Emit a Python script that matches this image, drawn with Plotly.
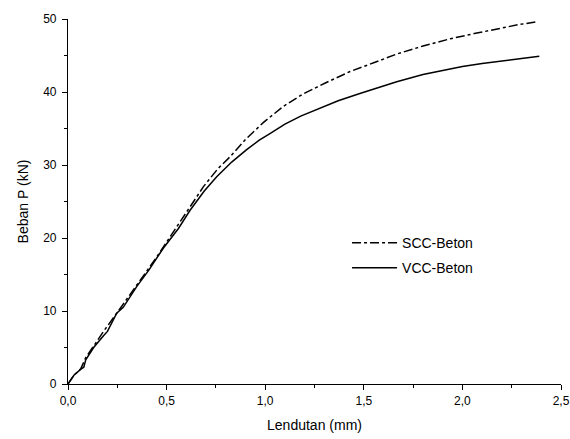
import plotly.graph_objects as go

scc_x = [0, 0.03, 0.065, 0.09, 0.13, 0.18, 0.25, 0.28, 0.35, 0.45, 0.52, 0.585, 0.686, 0.76, 0.821,
         0.90, 0.99, 1.09, 1.19, 1.31, 1.43, 1.55, 1.667, 1.80, 1.94, 2.06, 2.18, 2.28, 2.37]
scc_y = [0, 1.2, 2.1, 3.6, 5.2, 7.2, 9.8, 10.9, 13.6, 17.4, 20.2, 22.9, 27.0, 29.5, 31.1,
         33.5, 35.8, 38.0, 39.7, 41.3, 42.8, 44.0, 45.2, 46.3, 47.3, 48.0, 48.7, 49.2, 49.6]

vcc_x = [0, 0.03, 0.064, 0.08, 0.09, 0.13, 0.18, 0.20, 0.247, 0.28, 0.35, 0.41, 0.483, 0.56, 0.619,
         0.69, 0.754, 0.83, 0.906, 0.97, 1.024, 1.10, 1.18, 1.26, 1.37, 1.48, 1.58, 1.667, 1.80,
         1.90, 2.00, 2.10, 2.20, 2.30, 2.39]
vcc_y = [0, 1.2, 2.0, 2.3, 3.3, 5.0, 6.6, 7.2, 9.7, 10.5, 13.4, 15.6, 18.6, 21.3, 23.8,
         26.4, 28.4, 30.4, 32.1, 33.4, 34.3, 35.6, 36.7, 37.6, 38.8, 39.8, 40.7, 41.4, 42.4,
         43.0, 43.5, 43.9, 44.3, 44.6, 44.9]

fig = go.Figure()
fig.add_trace(go.Scatter(x=scc_x, y=scc_y, mode="lines", name="SCC-Beton", legendgroup="a",
                         line=dict(color="black", width=1.5, dash="dashdot")))
fig.add_trace(go.Scatter(x=vcc_x, y=vcc_y, mode="lines", name="VCC-Beton", legendgroup="b",
                         line=dict(color="black", width=1.5)))

font = "Liberation Sans, Arial, sans-serif"
fig.update_layout(
    width=570, height=439,
    margin=dict(l=68, r=9, t=19, b=55, autoexpand=False),
    plot_bgcolor="white", paper_bgcolor="white",
    separators=",.",
    font=dict(family=font, size=12, color="black"),
    showlegend=True,
    legend=dict(x=0.566, y=0.43, xanchor="left", yanchor="top",
                bgcolor="rgba(0,0,0,0)", font=dict(size=14, family=font),
                traceorder="grouped", tracegroupgap=4, itemwidth=45),
    xaxis=dict(range=[0, 2.5], dtick=0.5, tickformat=".1f", showgrid=False, zeroline=False,
               showline=True, linecolor="black", linewidth=1.2, ticks="outside", ticklen=5,
               tickcolor="black", tickwidth=1.2,
               minor=dict(dtick=0.25, ticks="outside", ticklen=3, tickcolor="black", tickwidth=1),
               title=dict(text="Lendutan (mm)", font=dict(size=14), standoff=13)),
    yaxis=dict(range=[0, 50], dtick=10, showgrid=False, zeroline=False,
               showline=True, linecolor="black", linewidth=1.2, ticks="outside", ticklen=5,
               tickcolor="black", tickwidth=1.2, ticklabelstandoff=3,
               minor=dict(dtick=5, ticks="outside", ticklen=3, tickcolor="black", tickwidth=1),
               title=dict(text="Beban P (kN)", font=dict(size=14), standoff=11)),
)
fig.write_html("out.html", config={"displayModeBar": False},
               post_script="document.body.style.margin='0';document.body.style.overflow='hidden';")
